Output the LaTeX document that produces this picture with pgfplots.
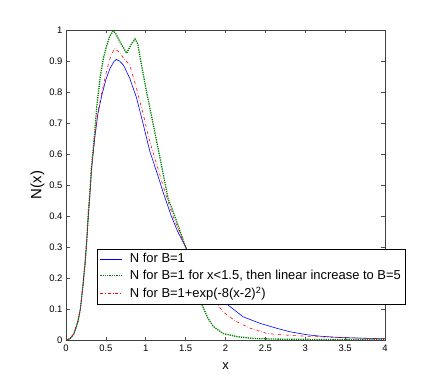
\documentclass[border=0pt]{standalone}
\usepackage{pgfplots}
\pgfplotsset{compat=1.18}
\usepackage{fontspec}
\setmainfont{Liberation Sans}
\definecolor{mgreen}{RGB}{0,128,0}
\begin{document}
\begin{tikzpicture}
\path[use as bounding box] (0,0) rectangle (436bp,382bp);
\begin{axis}[
  at={(66bp,42bp)}, anchor=south west,
  scale only axis, width=319bp, height=310bp,
  xmin=0, xmax=4, ymin=0, ymax=1,
  xtick={0,0.5,...,4}, ytick={0,0.1,...,1},
  xticklabels={0,0.5,1,1.5,2,2.5,3,3.5,4},
  yticklabels={0,0.1,0.2,0.3,0.4,0.5,0.6,0.7,0.8,0.9,1},
  tick align=inside, major tick length=3.5bp,
  axis line style={black!75, line width=0.6pt},
  tick style={black!70, line width=0.6pt},
  tick label style={font=\fontsize{9.5}{11}\selectfont},
  xticklabel style={yshift=-1bp},
  /pgf/number format/assume math mode=true,
  xlabel={x}, ylabel={N(x)},
  xlabel style={font=\fontsize{13}{15}\selectfont, yshift=-5bp},
  ylabel style={font=\fontsize{15}{16}\selectfont, yshift=-2bp},
  legend cell align=left,
  legend style={at={(rel axis cs:0.097,0.116)}, anchor=south west,
    font=\fontsize{13}{15}\selectfont,
    fill=white, draw=black, inner sep=2.5pt, row sep=2pt},
  legend image code/.code={\draw[#1] (0.05cm,0cm) -- (0.82cm,0cm); \path (1.0cm,0cm);},
]
\addplot[blue, line width=0.6pt] coordinates {
(0,0) (0.05,0.004) (0.1,0.02) (0.15,0.06) (0.18,0.10) (0.21,0.17) (0.24,0.25)
(0.26,0.32) (0.28,0.40) (0.30,0.47) (0.32,0.55) (0.36,0.65) (0.40,0.73)
(0.45,0.79) (0.50,0.84) (0.55,0.875) (0.60,0.898) (0.63,0.905) (0.67,0.90)
(0.72,0.887) (0.80,0.844) (0.886,0.78) (0.97,0.694) (1.05,0.61) (1.14,0.54)
(1.22,0.475) (1.32,0.40) (1.40,0.35) (1.50,0.30) (1.60,0.25) (1.70,0.205)
(1.80,0.17) (1.90,0.14) (2.03,0.113) (2.22,0.075) (2.43,0.054) (2.64,0.038)
(2.8,0.027) (3.02,0.017) (3.2,0.012) (3.44,0.008) (3.7,0.006) (4.0,0.004)};
\addlegendentry{N for B=1}
\addplot[mgreen, densely dotted, line width=1.3pt] coordinates {
(0,0) (0.05,0.004) (0.1,0.02) (0.15,0.06) (0.18,0.10) (0.21,0.17) (0.24,0.25)
(0.26,0.32) (0.28,0.41) (0.30,0.48) (0.32,0.56) (0.36,0.67) (0.385,0.75)
(0.43,0.85) (0.47,0.91) (0.51,0.95) (0.55,0.98) (0.59,0.997) (0.62,0.99)
(0.68,0.96) (0.76,0.925) (0.82,0.955) (0.865,0.971) (0.90,0.955) (0.93,0.91)
(1.01,0.80) (1.095,0.694) (1.18,0.586) (1.28,0.457) (1.37,0.395) (1.5,0.30)
(1.6,0.20) (1.68,0.13) (1.72,0.105) (1.78,0.07) (1.85,0.043) (1.97,0.021)
(2.14,0.011) (2.35,0.005) (2.6,0.003) (3,0.002) (4,0.001)};
\addlegendentry{N for B=1 for x<1.5, then linear increase to B=5}
\addplot[red, dash dot, line width=0.6pt] coordinates {
(0,0) (0.05,0.004) (0.1,0.02) (0.15,0.06) (0.18,0.10) (0.21,0.17) (0.24,0.25)
(0.26,0.32) (0.28,0.40) (0.30,0.47) (0.32,0.55) (0.36,0.655) (0.40,0.735)
(0.45,0.80) (0.51,0.87) (0.56,0.915) (0.61,0.94) (0.66,0.93) (0.72,0.91)
(0.80,0.887) (0.886,0.81) (0.97,0.726) (1.05,0.64) (1.14,0.565) (1.24,0.478)
(1.34,0.40) (1.5,0.30) (1.6,0.24) (1.7,0.19) (1.8,0.15) (1.89,0.118)
(1.97,0.091) (2.05,0.075) (2.14,0.059) (2.31,0.038) (2.52,0.021) (2.64,0.018)
(2.8,0.015) (3.1,0.011) (3.44,0.008) (3.7,0.006) (4,0.004)};
\addlegendentry{N for B=1+exp(-8(x-2)\textsuperscript{2})}
\end{axis}
\end{tikzpicture}
\end{document}
